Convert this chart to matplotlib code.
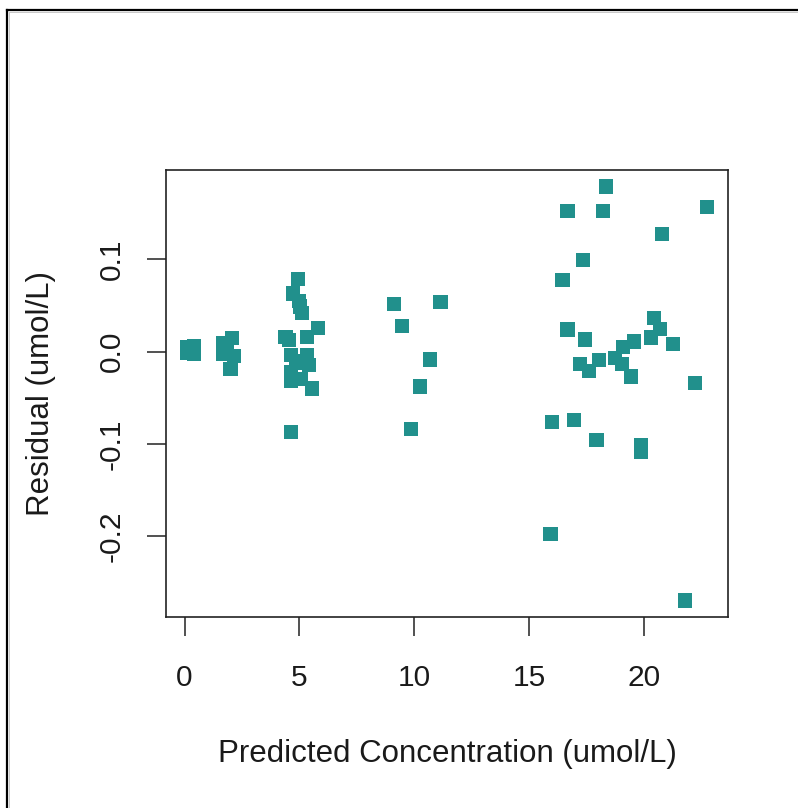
import matplotlib
matplotlib.use('Agg')
import matplotlib.pyplot as plt
from matplotlib.lines import Line2D
import numpy as np

plt.rcParams['font.family'] = ['Liberation Sans', 'DejaVu Sans']

# ---- data (predicted conc, residual) ----
pred_low = [0.10, 0.40, 0.12, 0.42, 0.28,
            2.07, 1.70, 1.67, 2.14, 2.00, 1.85]
resid_low = [0.005, 0.006, -0.001, -0.002, 0.002,
             0.0147, 0.0087, -0.0022, -0.0048, -0.0185, 0.003]

pred_mid = [4.93, 4.73, 4.98, 5.02, 5.12, 5.81, 4.40, 4.55, 5.34, 4.62,
            5.34, 5.41, 4.62, 5.06, 4.62, 5.56, 4.64, 5.20, 4.85]
resid_mid = [0.079, 0.063, 0.055, 0.049, 0.042, 0.0257, 0.0159, 0.0123, 0.0159, -0.004,
             -0.004, -0.0149, -0.0222, -0.0297, -0.0315, -0.0399, -0.087, -0.010, -0.012]

pred_10 = [9.13, 11.14, 9.48, 10.70, 10.26, 9.87]
resid_10 = [0.0518, 0.054, 0.0277, -0.0085, -0.0378, -0.084]

pred_high = [18.34, 16.67, 18.20, 22.75, 20.79, 17.34, 16.45, 20.42, 20.69, 20.31,
             21.27, 16.67, 17.42, 19.58, 19.08, 17.21, 18.05, 17.59, 18.73, 19.05,
             19.45, 22.21, 16.01, 16.94, 17.93, 19.86, 19.86, 15.93, 21.78]
resid_high = [0.179, 0.1525, 0.1525, 0.1568, 0.1279, 0.0996, 0.078, 0.0367, 0.0243, 0.0153,
              0.0084, 0.024, 0.0131, 0.0109, 0.0054, -0.0131, -0.0087, -0.0214, -0.0065, -0.0131,
              -0.0269, -0.034, -0.0763, -0.0742, -0.096, -0.1018, -0.1091, -0.1978, -0.2698]

x_ticks = [0, 5, 10, 15, 20]
y_ticks = [-0.2, -0.1, 0.0, 0.1]

pred = np.array(pred_low + pred_mid + pred_10 + pred_high)
resid = np.array(resid_low + resid_mid + resid_10 + resid_high)

W, H = 798, 808
fig = plt.figure(figsize=(W / 100, H / 100), dpi=100, facecolor='white')

# window frame of the original screenshot
fig.add_artist(Line2D([7 / W, 1], [1 - 10 / H, 1 - 10 / H], color='black', lw=1.6))
fig.add_artist(Line2D([7 / W, 7 / W], [0, 1 - 10 / H], color='black', lw=1.6))
fig.add_artist(Line2D([9 / W, 1], [1 - 12 / H, 1 - 12 / H], color='#c8c8c8', lw=0.7))
fig.add_artist(Line2D([9 / W, 9 / W], [0, 1 - 12 / H], color='#c8c8c8', lw=0.7))

left, right, top, bottom = 166, 728, 170, 617
ax = fig.add_axes([left / W, 1 - bottom / H, (right - left) / W, (bottom - top) / H])

ax.scatter(pred, resid, marker='s', s=105, color='#21908C', edgecolors='none', zorder=3)

# R style 4% padding
xr = pred.max() - pred.min()
yr = resid.max() - resid.min()
ax.set_xlim(pred.min() - 0.04 * xr, pred.max() + 0.04 * xr)
ax.set_ylim(resid.min() - 0.04 * yr, resid.max() + 0.04 * yr)

ax.set_xticks(x_ticks)
ax.set_xticklabels([str(t) for t in x_ticks])
ax.set_yticks(y_ticks)
ax.set_yticklabels(['%.1f' % t for t in y_ticks])

for sp in ax.spines.values():
    sp.set_linewidth(1.2)
    sp.set_color('#222222')

ax.tick_params(axis='both', direction='out', length=13.5, width=1.2, color='#333333',
               labelsize=21.5, labelcolor='#1a1a1a')
ax.tick_params(axis='x', pad=20.5)
ax.tick_params(axis='y', pad=15.5, labelrotation=90)
for lab in ax.get_yticklabels():
    lab.set_va('center')

ax.set_xlabel('Predicted Concentration (umol/L)', fontsize=22.5, color='#1a1a1a', labelpad=34)
ax.set_ylabel('Residual (umol/L)', fontsize=22.5, color='#1a1a1a', labelpad=30)

fig.savefig('out.png', dpi=100, facecolor='white')
